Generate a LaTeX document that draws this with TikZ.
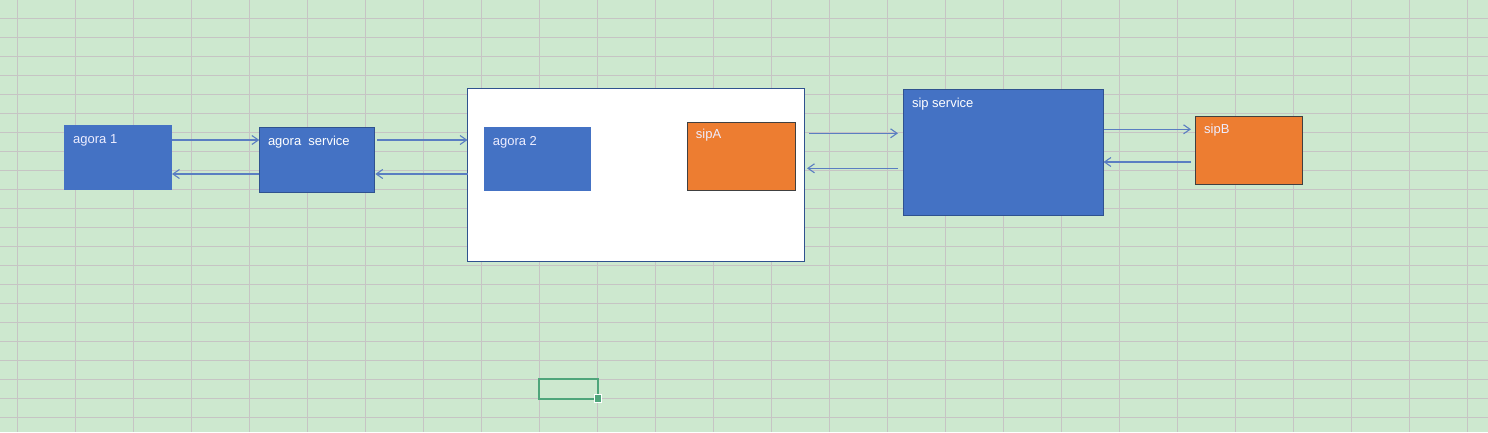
\documentclass[tikz,border=0pt]{standalone}
\usepackage{fontspec}
\setmainfont{Liberation Sans}
\usepackage{tikz}
\usetikzlibrary{arrows.meta}
\definecolor{sheet}{HTML}{CDE8CF}
\definecolor{gridln}{HTML}{C6C4C4}
\definecolor{boxblue}{HTML}{4472C4}
\definecolor{edgeblue}{HTML}{2F528F}
\definecolor{boxorange}{HTML}{ED7D31}
\definecolor{edgegray}{HTML}{404040}
\definecolor{arrblue}{HTML}{5A7EC2}
\definecolor{cellgreen}{HTML}{4FA57B}
\tikzset{
    box/.style={rectangle, anchor=north west, inner sep=0pt, outer sep=0pt},
    bluebox/.style={box, fill=boxblue},
    orangebox/.style={box, fill=boxorange, draw=edgegray, line width=0.8pt},
    lbl/.style={anchor=base west, inner sep=0pt, text=white!93!blue, font=\fontsize{13}{15}\selectfont},
    arr/.style={draw=arrblue, line width=1.5pt, -{Straight Barb[length=6.5pt, width=9pt, line width=1.1pt]}}
}

\begin{document}
\begin{tikzpicture}[x=1pt,y=-1pt]
    \useasboundingbox (0,0) rectangle (1488,432);
    \fill[sheet] (0,0) rectangle (1488,432);
    \foreach \gx in {0,...,25}
        \draw[gridln, line width=1pt] (17.3+58*\gx,0) -- (17.3+58*\gx,432);
    \foreach \gy in {0,...,21}
        \draw[gridln, line width=1pt] (0,18.4+19*\gy) -- (1488,18.4+19*\gy);

    % selected cell
    \draw[cellgreen, line width=2pt] (539.3,379.3) rectangle (597.7,398.5);
    \node[fill=cellgreen, draw=white, line width=0.6pt, minimum size=7.5pt, inner sep=0pt] (handle) at (597.7,398.5) {};

    \node[bluebox, minimum width=108pt, minimum height=65pt] (agora1) at (64,125) {};
    \node[bluebox, draw=edgeblue, line width=0.8pt, minimum width=115pt, minimum height=65pt] (agorasvc) at (259.3,127) {};
    \node[box, fill=white, draw=edgeblue, line width=0.8pt, minimum width=337pt, minimum height=173pt] (host) at (467.5,88.5) {};
    \node[bluebox, minimum width=107pt, minimum height=64pt] (agora2) at (484,127) {};
    \node[orangebox, minimum width=108pt, minimum height=68pt] (sipA) at (687,122.5) {};
    \node[bluebox, draw=edgeblue, line width=0.8pt, minimum width=200pt, minimum height=126pt] (sipsvc) at (903.5,89.5) {};
    \node[orangebox, minimum width=107pt, minimum height=68pt] (sipB) at (1195.5,116.5) {};

    \node[lbl] (agora1t) at ([shift={(9,18.3)}]agora1.north west) {agora 1};
    \node[lbl, text=white] (agorasvct) at ([shift={(8.5,18)}]agorasvc.north west) {agora\ \ service};
    \node[lbl] (agora2t) at ([shift={(8.7,18)}]agora2.north west) {agora 2};
    \node[lbl] (sipAt) at ([shift={(8.7,16)}]sipA.north west) {sipA};
    \node[lbl, text=white] (sipsvct) at ([shift={(8.3,17.5)}]sipsvc.north west) {sip service};
    \node[lbl] (sipBt) at ([shift={(8.5,17)}]sipB.north west) {sipB};

    \draw[arr] (agora1.east |- 0,140) -- (agorasvc.west |- 0,140);
    \draw[arr] (agorasvc.west |- 0,174) -- (agora1.east |- 0,174);
    \draw[arr, shorten <=3pt] (agorasvc.east |- 0,140) -- (host.west |- 0,140);
    \draw[arr, shorten >=1pt] (host.west |- 0,174) -- (agorasvc.east |- 0,174);
    \draw[arr, shorten <=4.5pt, shorten >=5.5pt] (host.east |- 0,133.3) -- (sipsvc.west |- 0,133.3);
    \draw[arr, shorten <=5.5pt, shorten >=2.5pt] (sipsvc.west |- 0,168.3) -- (host.east |- 0,168.3);
    \draw[arr, shorten >=4.5pt] (sipsvc.east |- 0,129.3) -- (sipB.west |- 0,129.3);
    \draw[arr, shorten <=4.5pt] (sipB.west |- 0,162) -- (sipsvc.east |- 0,162);
\end{tikzpicture}
\end{document}
